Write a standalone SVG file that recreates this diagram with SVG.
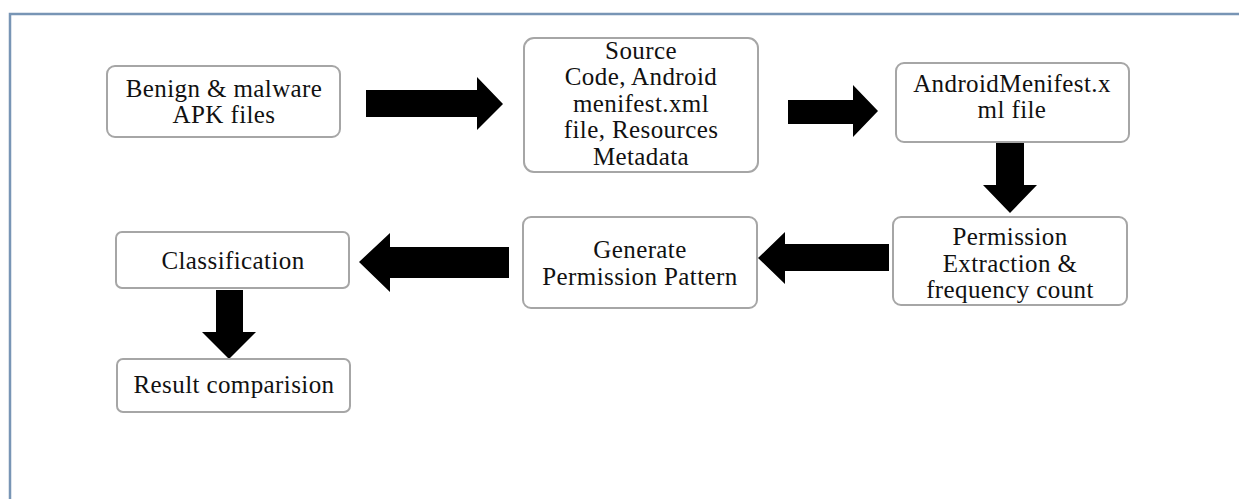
<svg xmlns="http://www.w3.org/2000/svg" width="1239" height="499" viewBox="0 0 1239 499">
<style>
.box{fill:#ffffff;stroke:#a6a6a6;stroke-width:2}
.t{font-family:"Liberation Serif","Times New Roman",serif;font-size:25px;letter-spacing:0.4px;fill:#111111;text-anchor:middle}
.arr{fill:#000000}
</style>
<rect x="0" y="0" width="1239" height="499" fill="#ffffff"/>
<rect x="10" y="14" width="1240" height="500" fill="#ffffff" stroke="#7895b5" stroke-width="2.5"/>
<g id="connectors">
<polygon class="arr" points="366,90 477,90 477,77 503,104 477,130 477,117 366,117"/>
<polygon class="arr" points="788,100 853,100 853,85 878,111 853,137 853,124 788,124"/>
<polygon class="arr" points="996,142 1024,142 1024,185 1037,185 1010,213 983,185 996,185"/>
<polygon class="arr" points="889,244 785,244 785,232 758,258 785,284 785,271 889,271"/>
<polygon class="arr" points="509,247 390,247 390,233 359,262 390,292 390,278 509,278"/>
<polygon class="arr" points="216,290 243,290 243,332 256,332 229,359 202,332 216,332"/>
</g>
<g id="n1">
<rect class="box" x="107" y="66" width="233" height="71" rx="8"/>
<text class="t" x="224" y="97">Benign &amp; malware</text>
<text class="t" x="224" y="123">APK files</text>
</g>
<g id="n2">
<rect class="box" x="524" y="38" width="234" height="134" rx="10"/>
<text class="t" x="641" y="59">Source</text>
<text class="t" x="641" y="85">Code, Android</text>
<text class="t" x="641" y="112">menifest.xml</text>
<text class="t" x="641" y="138">file, Resources</text>
<text class="t" x="641" y="165">Metadata</text>
</g>
<g id="n3">
<rect class="box" x="896" y="63" width="233" height="79" rx="8"/>
<text class="t" x="1012" y="92">AndroidMenifest.x</text>
<text class="t" x="1012" y="118">ml file</text>
</g>
<g id="n4">
<rect class="box" x="893" y="217" width="234" height="88" rx="8"/>
<text class="t" x="1010" y="245">Permission</text>
<text class="t" x="1010" y="272">Extraction &amp;</text>
<text class="t" x="1010" y="298">frequency count</text>
</g>
<g id="n5">
<rect class="box" x="523" y="217" width="234" height="91" rx="8"/>
<text class="t" x="640" y="258">Generate</text>
<text class="t" x="640" y="285">Permission Pattern</text>
</g>
<g id="n6">
<rect class="box" x="116" y="232" width="233" height="56" rx="6"/>
<text class="t" x="233" y="269">Classification</text>
</g>
<g id="n7">
<rect class="box" x="117" y="359" width="233" height="53" rx="6"/>
<text class="t" x="234" y="393">Result comparision</text>
</g>
</svg>
